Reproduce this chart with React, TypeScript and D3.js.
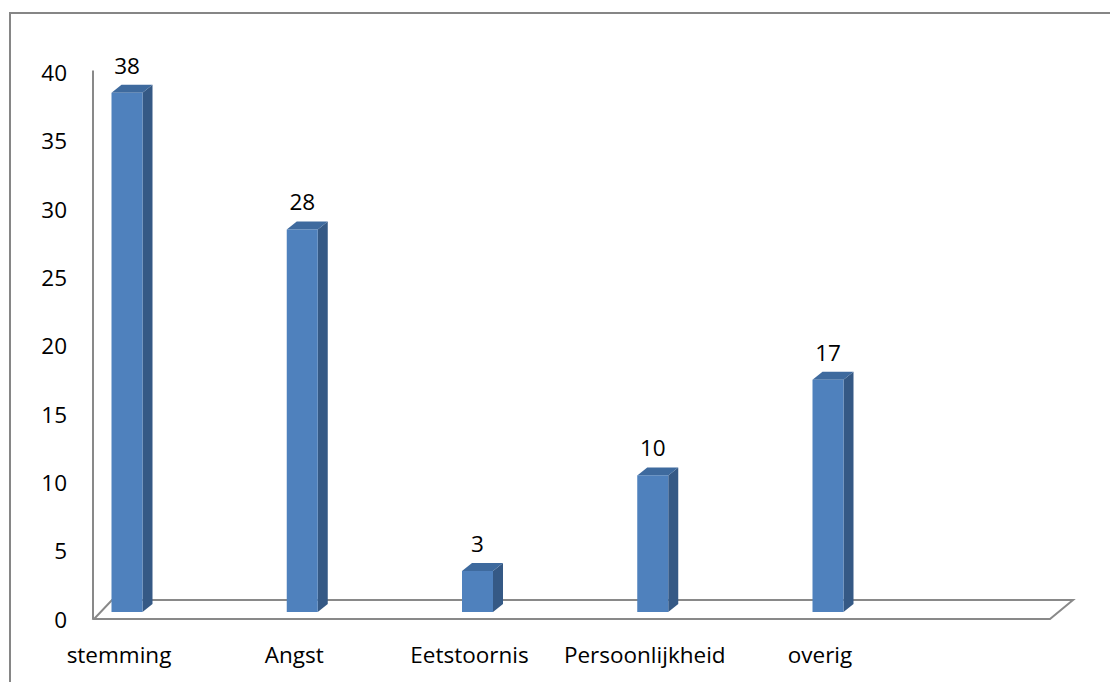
import React from "react";
import * as d3 from "d3";

const categories = ["stemming", "Angst", "Eetstoornis", "Persoonlijkheid", "overig"];
const values = [38, 28, 3, 10, 17];
const yTicks = [0, 5, 10, 15, 20, 25, 30, 35, 40];

const W = 1110;
const H = 682;
const FONT = "'Open Sans', sans-serif";

export default function App() {
  const y = d3.scaleLinear().domain([0, 40]).range([619, 72.5]);
  const x = d3.scalePoint<string>().domain(categories).range([127, 828]);

  const barW = 31;
  const dx = 10;
  const dy = -8;
  const lift = 7; // bars stand at mid-depth of floor

  const floorFrontL = 94;
  const floorFrontR = 1050;
  const floorDx = 23;
  const floorDy = -19;
  const y0 = y(0);

  return (
    <svg
      width={W}
      height={H}
      style={{ position: "absolute", left: 0, top: 0, background: "#fff" }}
    >
      <rect x={10} y={13} width={1300} height={900} fill="#fff" stroke="#868686" strokeWidth={2} />
      {/* floor */}
      <polygon
        points={[
          [floorFrontL, y0],
          [floorFrontR, y0],
          [floorFrontR + floorDx, y0 + floorDy],
          [floorFrontL + 18, y0 + floorDy],
        ]
          .map((p) => p.join(","))
          .join(" ")}
        fill="#fff"
        stroke="#898989"
        strokeWidth={2}
      />
      {/* vertical axis */}
      <line x1={93} x2={93} y1={y(40) - 2} y2={y0} stroke="#898989" strokeWidth={2} />
      {yTicks.map((t) => (
        <text
          key={t}
          x={67}
          y={y(t)}
          textAnchor="end"
          dominantBaseline="central"
          fontFamily={FONT}
          fontSize={22.5}
          fill="#000"
        >
          {t}
        </text>
      ))}
      {categories.map((c, i) => {
        const cx = x(c)!;
        const xl = cx - barW / 2;
        const xr = cx + barW / 2;
        const yb = y0 - lift;
        const yt = y(values[i]) - lift;
        const pts = (arr: number[][]) => arr.map((p) => p.join(",")).join(" ");
        return (
          <g key={c}>
            <polygon
              points={pts([
                [xr, yb],
                [xr + dx, yb + dy],
                [xr + dx, yt + dy],
                [xr, yt],
              ])}
              fill="#355985"
            />
            <polygon
              points={pts([
                [xl, yt],
                [xl + dx, yt + dy],
                [xr + dx, yt + dy],
                [xr, yt],
              ])}
              fill="#3E6A9E"
            />
            <rect x={xl} y={yt} width={barW} height={yb - yt} fill="#4F81BD" />
            <text
              x={cx}
              y={yt + dy - 11}
              textAnchor="middle"
              fontFamily={FONT}
              fontSize={22.5}
              fill="#000"
            >
              {values[i]}
            </text>
            <text
              x={cx - 8}
              y={663}
              textAnchor="middle"
              fontFamily={FONT}
              fontSize={22.5}
              fill="#000"
            >
              {c}
            </text>
          </g>
        );
      })}
    </svg>
  );
}
